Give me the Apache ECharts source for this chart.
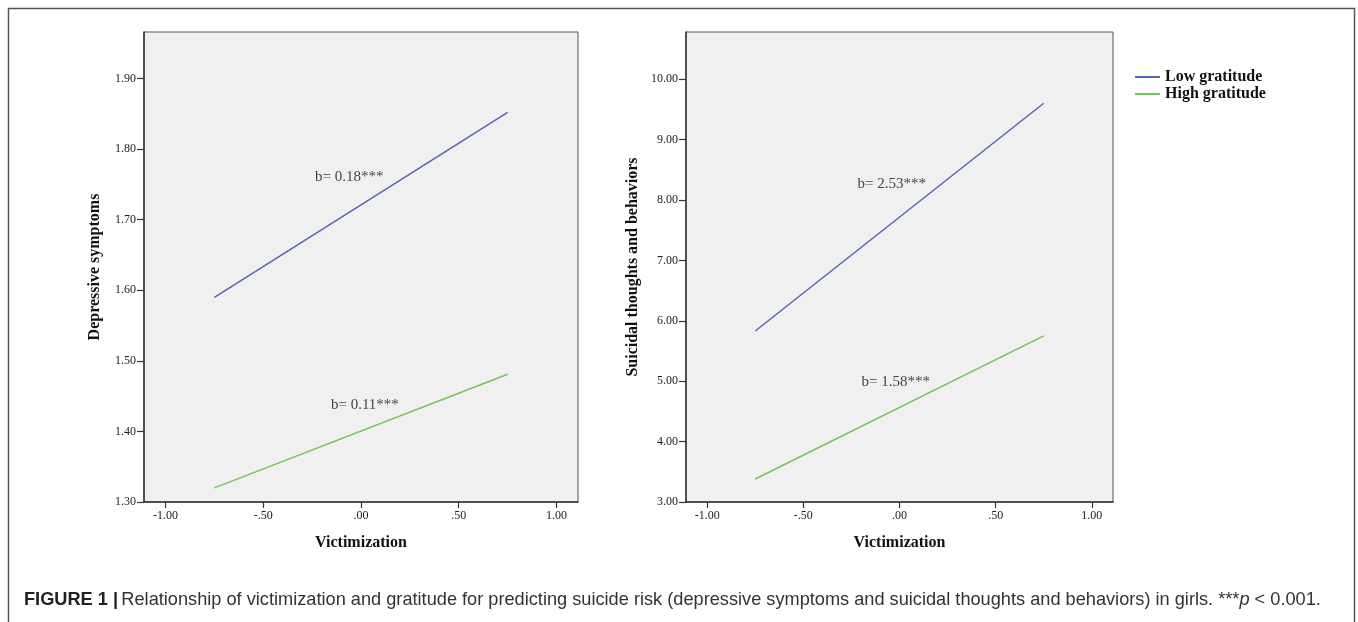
<!DOCTYPE html>
<html>
<head>
<meta charset="utf-8">
<title>Victimization and gratitude</title>
<script src="https://cdn.jsdelivr.net/npm/echarts@6/dist/echarts.min.js"></script>
<style>
  html, body { margin: 0; padding: 0; background: #fff; }
  #main { width: 1358px; height: 622px; }
</style>
</head>
<body>
<div id="main"></div>
<script>
// victimization values (x), one at -1 SD and one at +1 SD
const victimization = [-0.75, 0.75];
// depressive symptoms
const depLow = [1.59, 1.852];
const depHigh = [1.32, 1.481];
// suicidal thoughts and behaviors
const suiLow = [5.83, 9.6];
const suiHigh = [3.38, 5.75];

const xTicks = [-1, -0.5, 0, 0.5, 1];
const depTicks = [1.3, 1.4, 1.5, 1.6, 1.7, 1.8, 1.9];
const suiTicks = [3, 4, 5, 6, 7, 8, 9, 10];

// slope labels: [x, y, text]
const depNotes = [[-0.06, 1.76, 'b= 0.18***'], [0.02, 1.437, 'b= 0.11***']];
const suiNotes = [[-0.04, 8.26, 'b= 2.53***'], [-0.02, 4.99, 'b= 1.58***']];

const seriesNames = ['Low gratitude', 'High gratitude'];
const colors = ['#5663b4', '#74c45a'];

const serif = '"Liberation Serif", "Times New Roman", serif';
const sans = '"Liberation Sans", Arial, sans-serif';
const fmt = v => (+v).toFixed(2).replace(/^(-?)0\./, '$1.');

const pairs = (xs, ys) => xs.map((x, i) => [x, ys[i]]);

function xAxisFor(gridIndex) {
  return {
    type: 'value', gridIndex: gridIndex, min: -1.11, max: 1.11,
    name: 'Victimization', nameLocation: 'middle', nameGap: 33,
    nameTextStyle: { fontFamily: serif, fontWeight: 'bold', fontSize: 16, color: '#111' },
    splitLine: { show: false },
    axisLine: { onZero: false, lineStyle: { color: '#333', width: 1.5 } },
    axisTick: { customValues: xTicks, length: 6, lineStyle: { color: '#333', width: 1.2 } },
    axisLabel: { customValues: xTicks, formatter: fmt, fontFamily: serif, fontSize: 12, color: '#222', margin: 8 }
  };
}

function yAxisFor(gridIndex, min, max, ticks, title, gap) {
  return {
    type: 'value', gridIndex: gridIndex, min: min, max: max,
    name: title, nameLocation: 'middle', nameGap: gap, nameRotate: 90,
    nameTextStyle: { fontFamily: serif, fontWeight: 'bold', fontSize: 16, color: '#111' },
    splitLine: { show: false },
    axisLine: { onZero: false, lineStyle: { color: '#333', width: 1.5 } },
    axisTick: { customValues: ticks, length: 7, lineStyle: { color: '#333', width: 1.2 } },
    axisLabel: { customValues: ticks, formatter: fmt, fontFamily: serif, fontSize: 12, color: '#222', margin: 8 }
  };
}

function lineSeries(name, idx, data, color) {
  return {
    name: name, type: 'line', xAxisIndex: idx, yAxisIndex: idx,
    data: pairs(victimization, data), showSymbol: false, symbol: 'none',
    lineStyle: { color: color, width: 1.5 }, itemStyle: { color: color }
  };
}

function noteSeries(idx, notes) {
  return {
    type: 'scatter', xAxisIndex: idx, yAxisIndex: idx, symbolSize: 0, silent: true,
    data: notes.map(n => ({ value: [n[0], n[1]], name: n[2] })),
    label: { show: true, position: 'inside', formatter: p => p.name, fontFamily: serif, fontSize: 15, color: '#111' }
  };
}

const chart = echarts.init(document.getElementById('main'));
chart.setOption({
  animation: false,
  backgroundColor: '#fff',
  grid: [
    { left: 144, top: 32, width: 434, height: 470, show: true, backgroundColor: '#f0f0f0', borderColor: '#555', borderWidth: 1 },
    { left: 686, top: 32, width: 427, height: 470, show: true, backgroundColor: '#f0f0f0', borderColor: '#555', borderWidth: 1 }
  ],
  xAxis: [xAxisFor(0), xAxisFor(1)],
  yAxis: [
    yAxisFor(0, 1.3, 1.966, depTicks, 'Depressive symptoms', 41),
    yAxisFor(1, 3, 10.78, suiTicks, 'Suicidal thoughts and behaviors', 45)
  ],
  legend: {
    data: seriesNames, orient: 'vertical', left: 1130, top: 64, itemGap: 1,
    icon: 'rect', itemWidth: 25, itemHeight: 2,
    textStyle: { fontFamily: serif, fontWeight: 'bold', fontSize: 16, color: '#111' }
  },
  series: [
    lineSeries(seriesNames[0], 0, depLow, colors[0]),
    lineSeries(seriesNames[1], 0, depHigh, colors[1]),
    lineSeries(seriesNames[0], 1, suiLow, colors[0]),
    lineSeries(seriesNames[1], 1, suiHigh, colors[1]),
    noteSeries(0, depNotes),
    noteSeries(1, suiNotes)
  ],
  graphic: [
    {
      type: 'rect', left: 6, top: 6, silent: true,
      shape: { width: 1346, height: 700 },
      style: { fill: 'none', stroke: '#555', lineWidth: 1.5 }
    },
    {
      type: 'text', left: 24, top: 591, silent: true,
      style: {
        text: '{b|FIGURE 1 |} {n|Relationship of victimization and gratitude for predicting suicide risk (depressive symptoms and suicidal thoughts and behaviors) in girls. ***}{i|p}{n| < 0.001.}',
        rich: {
          b: { fontFamily: sans, fontWeight: 'bold', fontSize: 18.2, fill: '#222' },
          n: { fontFamily: sans, fontSize: 18.2, fill: '#333' },
          i: { fontFamily: sans, fontStyle: 'italic', fontSize: 18.2, fill: '#333' }
        }
      }
    }
  ]
});
</script>
</body>
</html>
